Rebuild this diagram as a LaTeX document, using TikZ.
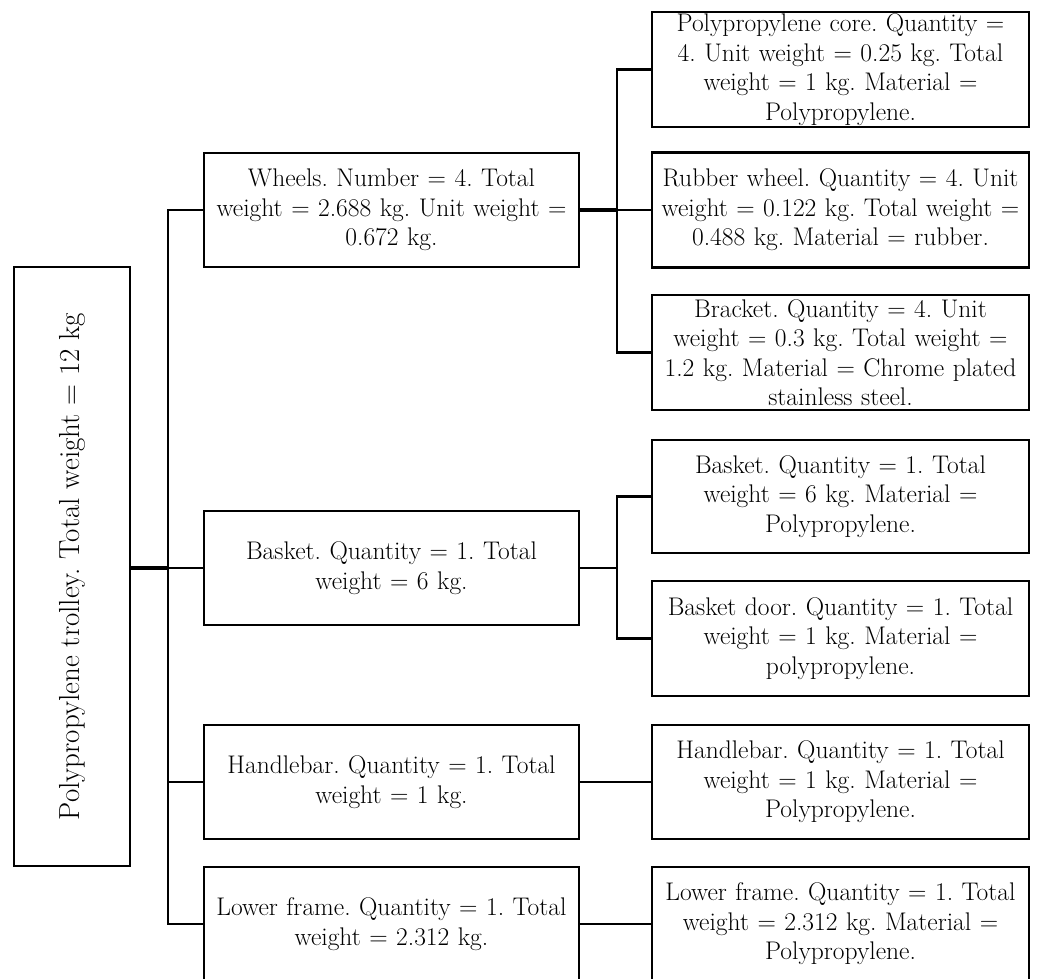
\documentclass[tikz,border=0pt]{standalone}
\usepackage{graphicx}
\begin{document}
\frenchspacing
\begin{tikzpicture}[x=1pt,y=-1pt,
  box/.style={draw=black,line width=2.8pt,rectangle,inner xsep=0pt,inner ysep=0pt,
    align=center,font=\fontsize{25.5}{29.5}\selectfont},
  lone/.style={box,text width=375pt,minimum width=375pt,minimum height=114pt},
  ltwo/.style={box,text width=377pt,minimum width=377pt,minimum height=115pt},
  link/.style={line width=2.5pt},
  trunk/.style={line width=4.4pt}]
\useasboundingbox (0,0) rectangle (1043,978);

% root
\node[box,font=\fontsize{29}{33}\selectfont,minimum width=116pt,minimum height=599pt] (root) at (72,566.5)
  {\rotatebox{90}{Polypropylene trolley. Total weight = 12 kg}};

% first level
\node[lone] (wheels) at (391.5,210) {Wheels. Number = 4. Total\\weight = 2.688 kg. Unit weight =\\0.672 kg.};
\node[lone] (basket) at (391.5,568) {Basket. Quantity = 1. Total\\weight = 6 kg.};
\node[lone] (handle) at (391.5,782) {Handlebar. Quantity = 1. Total\\weight = 1 kg.};
\node[lone] (lower) at (391.5,924) {Lower frame. Quantity = 1. Total\\weight = 2.312 kg.};

% second level
\node[ltwo] (core) at (840.5,69.5) {Polypropylene core. Quantity =\\4. Unit weight = 0.25 kg. Total\\weight = 1 kg. Material =\\Polypropylene.};
\node[ltwo] (rubber) at (840.5,210) {Rubber wheel. Quantity = 4. Unit\\weight = 0.122 kg. Total weight =\\0.488 kg. Material = rubber.};
\node[ltwo] (bracket) at (840.5,352.5) {Bracket. Quantity = 4. Unit\\weight = 0.3 kg. Total weight =\\1.2 kg. Material = Chrome plated\\stainless steel.};
\node[ltwo,minimum height=113pt] (basketb) at (840.5,496.5) {Basket. Quantity = 1. Total\\weight = 6 kg. Material =\\Polypropylene.};
\node[ltwo] (door) at (840.5,638.5) {Basket door. Quantity = 1. Total\\weight = 1 kg. Material =\\polypropylene.};
\node[ltwo,minimum height=114pt] (handleb) at (840.5,782) {Handlebar. Quantity = 1. Total\\weight = 1 kg. Material =\\Polypropylene.};
\node[ltwo,minimum height=114pt] (lowerb) at (840.5,924) {Lower frame. Quantity = 1. Total\\weight = 2.312 kg. Material =\\Polypropylene.};

% junction points
\coordinate (j1) at (168,568);
\coordinate (j2) at (617,210);
\coordinate (j3) at (617,568);

% connectors from the root
\draw[trunk] (root.east |- j1) -- (j1);
\draw[link] (wheels.west) -| (j1) |- (lower.west);
\draw[link] (j1) -- (basket.west);
\draw[link] (handle.west) -- (handle.west -| j1);

% wheel parts
\draw[trunk] (wheels.east) -- (j2);
\draw[link] (j2) -- (rubber.west);
\draw[link] (core.west) -| (j2) |- (bracket.west);

% basket parts
\draw[link] (basket.east) -- (j3);
\draw[link] (basketb.west) -| (j3) |- (door.west);

% single children
\draw[link] (handle.east) -- (handleb.west);
\draw[link] (lower.east) -- (lowerb.west);
\end{tikzpicture}
\end{document}
